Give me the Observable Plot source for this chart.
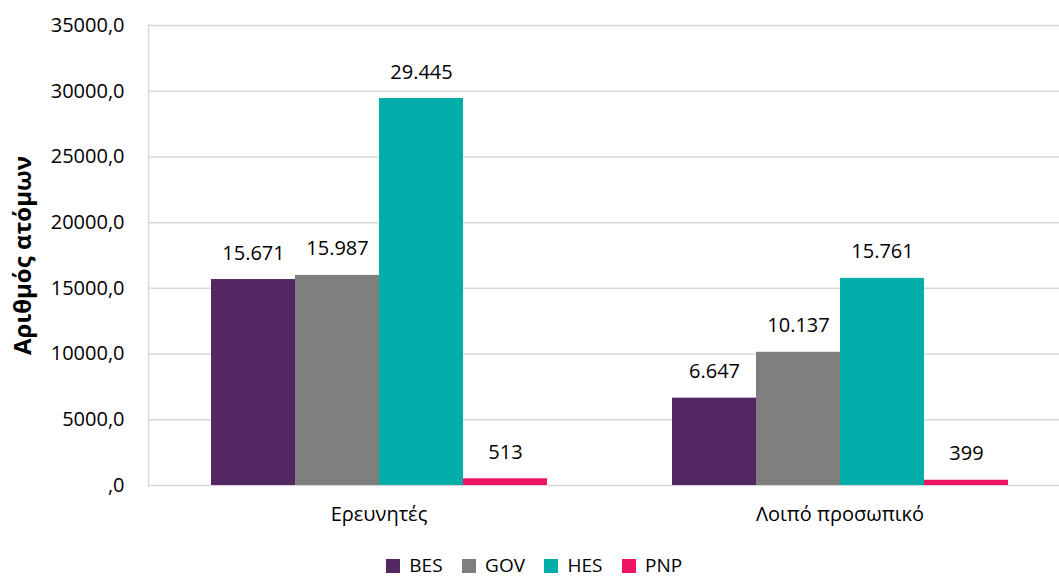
<!DOCTYPE html>
<html>
<head>
<meta charset="utf-8">
<script src="https://cdn.jsdelivr.net/npm/d3@7"></script>
<script src="https://cdn.jsdelivr.net/npm/@observablehq/plot@0.6"></script>
<style>
  html, body { margin: 0; padding: 0; background: #fff; width: 1059px; height: 576px; overflow: hidden; }
  #chart { position: relative; width: 1059px; height: 576px; font-family: "Open Sans", sans-serif; }
  #legend { position: absolute; top: 549px; left: 14px; width: 1059px; display: flex; justify-content: center; }
  #legend span { line-height: 19px; }
</style>
</head>
<body>
<div id="chart"></div>
<script>
const categories = ["Ερευνητές", "Λοιπό προσωπικό"];
const seriesNames = ["BES", "GOV", "HES", "PNP"];
const BES = [15671, 6647];
const GOV = [15987, 10137];
const HES = [29445, 15761];
const PNP = [513, 399];
const seriesColors = ["#532762", "#7f7f7f", "#02adaa", "#ee1664"];
const yTicks = [0, 5000, 10000, 15000, 20000, 25000, 30000, 35000];
const yTitle = "Αριθμός ατόμων";

const seriesValues = [BES, GOV, HES, PNP];
const data = [];
categories.forEach((c, ci) => {
  seriesNames.forEach((s, si) => data.push({category: c, series: s, value: seriesValues[si][ci]}));
});

const grLocale = d3.formatLocale({decimal: ",", thousands: ".", grouping: [3], currency: ["", "€"]});
const fmtLabel = grLocale.format(",d");
const fmtTick = v => v === 0 ? ",0" : grLocale.format(".1f")(v);

const plot = Plot.plot({
  width: 1059,
  height: 540,
  marginTop: 25,
  marginBottom: 55,
  marginLeft: 148,
  marginRight: 0,
  style: {fontFamily: "Open Sans, sans-serif", fontSize: "20px", color: "#000", background: "#fff"},
  fx: {domain: categories, range: [148, 1070], padding: 0, label: null},
  x: {domain: seriesNames, paddingInner: 0, paddingOuter: 0.744, axis: null},
  y: {domain: [0, 35000], axis: null},
  color: {domain: seriesNames, range: seriesColors},
  marks: [
    Plot.gridY(yTicks, {stroke: "#d9d9d9", strokeOpacity: 1, strokeWidth: 1.5}),
    Plot.frame({anchor: "left", stroke: "#d9d9d9", strokeWidth: 1.5, facetAnchor: "left"}),
    Plot.barY(data, {fx: "category", x: "series", y: "value", fill: "series"}),
    Plot.text(data, {fx: "category", x: "series", y: "value", text: d => fmtLabel(d.value),
      lineAnchor: "bottom", dy: -20, fill: "#000", fontSize: 20}),
    Plot.axisY(yTicks, {tickSize: 0, tickPadding: 24, tickFormat: fmtTick, fontSize: 20, fill: "#000", label: null}),
    Plot.axisFx({anchor: "bottom", tickSize: 0, tickPadding: 21, fontSize: 20, fill: "#000", label: null}),
    Plot.text([yTitle], {frameAnchor: "left", rotate: -90, dx: -125, text: d => d, textAnchor: "middle",
      fontWeight: "bold", fontSize: 24, fill: "#000", facetAnchor: "left"})
  ]
});

const chart = document.getElementById("chart");
chart.appendChild(plot);

const legend = Plot.legend({
  color: {domain: seriesNames, range: seriesColors},
  swatchSize: 14,
  style: {fontFamily: "Open Sans, sans-serif", fontSize: "19px", color: "#000", lineHeight: "19px"}
});
const lw = document.createElement("div");
lw.id = "legend";
lw.appendChild(legend);
chart.appendChild(lw);
</script>
</body>
</html>
